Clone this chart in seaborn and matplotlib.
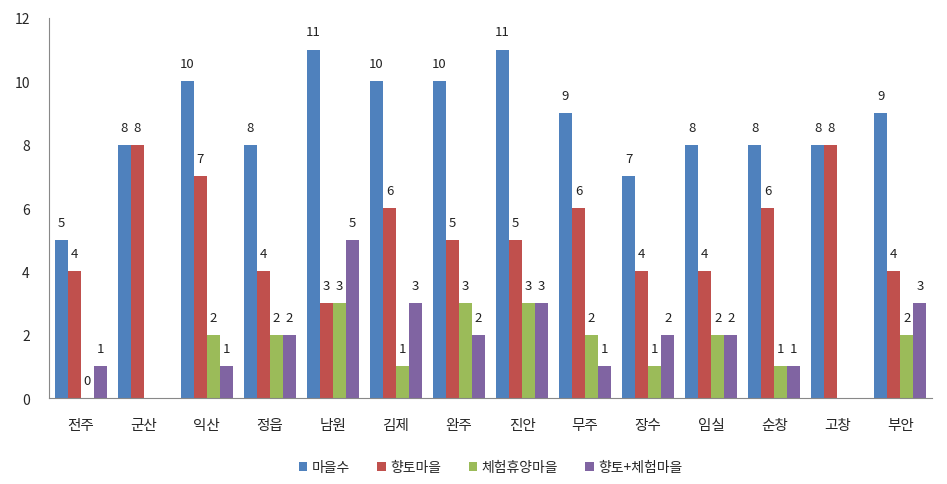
import numpy as np
import pandas as pd
import matplotlib
matplotlib.use("Agg")
import matplotlib.pyplot as plt
import seaborn as sns

regions = ["전주", "군산", "익산", "정읍", "남원", "김제", "완주", "진안", "무주", "장수", "임실", "순창", "고창", "부안"]
series_names = ["마을수", "향토마을", "체험휴양마을", "향토+체험마을"]
villages = [5, 8, 10, 8, 11, 10, 10, 11, 9, 7, 8, 8, 8, 9]
local_villages = [4, 8, 7, 4, 3, 6, 5, 5, 6, 4, 4, 6, 8, 4]
experience_villages = [0, np.nan, 2, 2, 3, 1, 3, 3, 2, 1, 2, 1, np.nan, 2]
local_exp_villages = [1, np.nan, 1, 2, 5, 3, 2, 3, 1, 2, 2, 1, np.nan, 3]
yticks = [0, 2, 4, 6, 8, 10, 12]

colors = ["#4F81BD", "#C0504D", "#9BBB59", "#8064A2"]

sns.set_style("white")
plt.rcParams['font.family'] = ['Noto Sans CJK KR', 'DejaVu Sans']

rows = []
for name, vals in zip(series_names, [villages, local_villages, experience_villages, local_exp_villages]):
    for r, v in zip(regions, vals):
        rows.append({"region": r, "series": name, "value": v})
df = pd.DataFrame(rows)

fig = plt.figure(figsize=(9.47, 4.85), dpi=100)
ax = fig.add_axes([0.052, 0.177, 0.932, 0.784])

sns.barplot(data=df, x="region", y="value", hue="series", order=regions,
            hue_order=series_names, palette=colors, width=0.83,
            saturation=1, errorbar=None, linewidth=0, ax=ax)

for cont in ax.containers:
    for bar in cont:
        if bar is None:
            continue
        h = bar.get_height()
        if h is None or np.isnan(h):
            continue
        ax.annotate(f"{int(round(h))}", xy=(bar.get_x() + bar.get_width() / 2, h),
                    xytext=(0, 8), textcoords="offset points",
                    ha="center", va="bottom", fontsize=9.5, color="#222222")

ax.set_ylim(0, 12)
ax.set_yticks(yticks)
ax.set_xlim(-0.5, len(regions) - 0.5)
ax.set_xlabel("")
ax.set_ylabel("")
ax.tick_params(axis="y", length=0, pad=14, labelsize=10)
ax.tick_params(axis="x", length=0, pad=14, labelsize=10.5)
for s in ["top", "right"]:
    ax.spines[s].set_visible(False)
ax.spines["left"].set_color("#888888")
ax.spines["bottom"].set_color("#888888")

handles, labs = ax.get_legend_handles_labels()
ax.legend(handles, labs, loc="upper center", bbox_to_anchor=(0.5, -0.13),
          ncol=4, frameon=False, fontsize=10, handlelength=0.6, handleheight=0.6,
          handletextpad=0.3, columnspacing=2.0)

fig.savefig("out.png", dpi=100)
